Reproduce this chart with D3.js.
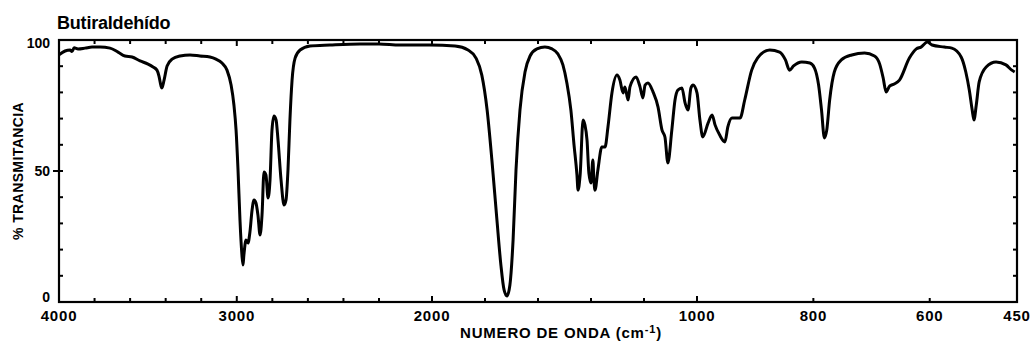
<!DOCTYPE html>
<html>
<head>
<meta charset="utf-8">
<script src="https://cdn.jsdelivr.net/npm/d3@7"></script>
<style>
  body { margin: 0; background: #fff; }
  text { font-family: "Liberation Sans", Arial, sans-serif; font-weight: bold; fill: #000; }
</style>
</head>
<body>
<div id="chart"></div>
<script>
// wavenumber (cm-1) and % transmittance
const wavenumbers = [4000,3966,3938,3927,3915,3893,3854,3814,3769,3713,3668,3629,3589,3544,3499,3471,3449,3438,3426,3421,3409,3392,3364,3319,3263,3207,3151,3117,3083,3055,3032,3016,3004,2993,2982,2971,2965,2960,2948,2937,2926,2914,2903,2892,2881,2869,2858,2847,2836,2824,2813,2802,2791,2779,2768,2751,2734,2723,2712,2701,2689,2672,2644,2588,2476,2307,2200,
  2121,2008,1913,1864,1834,1812,1792,1774,1755,1740,1728,1717,1706,1694,1683,1668,1649,1630,1604,1574,1547,1525,1506,1491,1476,1464,1453,1449,1441,1430,1423,1415,1408,1400,1393,1389,1385,1374,1359,1347,1336,1321,1302,1291,1279,1272,1260,1253,1230,1215,1204,1196,1185,1166,1147,1132,1121,1110,1095,1083,1072,1057,1045,1034,1023,1015,1000,
  995,990,981,974,969,961,952,947,940,926,918,906,896,875,858,848,841,834,820,806,798,791,786,781,777,772,764,752,734,712,695,686,680,675,669,661,652,635,623,615,604,596,575,562,546,538,532,527,524,520,515,503,486,469,459,454];
const transmittance = [94.3,95.8,96.2,95.6,97.0,96.6,96.9,97.3,97.3,96.9,95.4,93.9,93.5,92.0,90.8,89.7,88.5,86.3,82.4,81.7,84.7,90.1,92.7,93.9,94.3,93.9,93.5,92.7,91.2,88.5,82.8,75.2,65.6,50.4,31.3,17.9,14.1,17.9,23.7,22.5,26.7,35.1,38.9,37.8,33.2,25.6,33.2,49.6,48.5,39.7,46.6,65.6,71.0,69.5,61.8,46.6,37.0,38.9,50.4,69.5,84.7,93.1,96.2,97.7,98.1,98.5,98.5,
  98.1,98.1,97.7,96.2,93.1,86.6,73.3,54.2,31.3,14.1,4.6,2.3,6.5,23.7,50.4,73.3,87.8,93.9,96.6,97.3,96.6,94.7,90.5,83.6,73.3,59.9,48.5,42.7,48.5,69.5,67.6,61.8,49.2,45.4,54.2,46.6,42.7,50.4,59.2,59.2,66.8,79.8,86.6,84.7,79.8,82.1,77.1,82.1,85.9,82.1,77.9,82.8,83.6,80.2,74.4,65.6,63.0,53.1,65.6,77.1,80.9,81.7,76.0,73.3,81.7,82.8,79.8,
  69.5,63.0,68.3,71.4,67.6,63.7,61.1,66.8,70.2,70.2,77.1,88.5,93.1,96.2,95.4,92.4,88.5,90.1,91.6,91.2,89.3,82.8,73.3,62.6,65.6,77.1,87.8,92.4,94.3,95.0,93.9,90.8,85.5,80.2,82.4,83.2,84.7,93.1,96.6,97.3,99.2,98.1,97.3,96.9,93.5,87.8,80.9,73.3,69.5,75.2,84.0,89.7,91.6,90.5,88.5,87.8];

const xTickValues = [3800,3600,3400,3200,3000,2800,2600,2400,2200,2000,1800,1600,1400,1200,1000,800,600];
const xTickLabels = [4000,3000,2000,1000,800,600,450];
const yMinorTicks = [10,20,30,40,50,60,70,80,90];
const yTickLabels = [0,50,100];

const width = 1033, height = 345;
const margin = {left: 59, right: 15, top: 40, bottom: 43};

// the chart changes scale at 2200 and 1000 cm-1
const x = d3.scaleLinear()
  .domain([4000, 2200, 1000, 450])
  .range([59, 379, 697, 1017]);
const y = d3.scaleLinear()
  .domain([0, 100])
  .range([height - margin.bottom, margin.top]);

const svg = d3.select('#chart').append('svg')
  .attr('width', width)
  .attr('height', height);

// title
svg.append('text')
  .attr('x', 57).attr('y', 29)
  .attr('font-size', 18)
  .attr('letter-spacing', -0.2)
  .text('Butiraldehído');

// frame
svg.append('rect')
  .attr('x', x(4000)).attr('y', y(100))
  .attr('width', x(450) - x(4000))
  .attr('height', y(0) - y(100))
  .attr('fill', 'none')
  .attr('stroke', '#000')
  .attr('stroke-width', 2.2);

// ticks on every side, pointing in
const tickG = svg.append('g').attr('stroke', '#000').attr('stroke-width', 2);
xTickValues.forEach(v => {
  let len = (v % 1000 === 0) ? 6 : 4;
  tickG.append('line')
    .attr('x1', x(v)).attr('x2', x(v))
    .attr('y1', y(0)).attr('y2', y(0) - len);
  tickG.append('line')
    .attr('x1', x(v)).attr('x2', x(v))
    .attr('y1', y(100)).attr('y2', y(100) + len);
});
yMinorTicks.forEach(v => {
  tickG.append('line')
    .attr('x1', x(4000) - (v === 50 ? 6 : 0)).attr('x2', x(4000) + 4)
    .attr('y1', y(v)).attr('y2', y(v));
  tickG.append('line')
    .attr('x1', x(450)).attr('x2', x(450) - 4)
    .attr('y1', y(v)).attr('y2', y(v));
});

// y labels
svg.selectAll('text.ylab')
  .data(yTickLabels).enter()
  .append('text')
  .attr('class', 'ylab')
  .attr('x', 50)
  .attr('y', d => d === 0 ? y(d) : (d === 100 ? y(d) + 8 : y(d) + 5))
  .attr('text-anchor', 'end')
  .attr('font-size', 14)
  .text(d => d);

svg.append('text')
  .attr('transform', 'translate(23,' + (y(50)) + ') rotate(-90)')
  .attr('text-anchor', 'middle')
  .attr('font-size', 14)
  .attr('letter-spacing', 0.4)
  .text('% TRANSMITANCIA');

// x labels
svg.selectAll('text.xlab')
  .data(xTickLabels).enter()
  .append('text')
  .attr('class', 'xlab')
  .attr('x', d => x(d))
  .attr('y', 321)
  .attr('text-anchor', 'middle')
  .attr('font-size', 15)
  .attr('letter-spacing', 0.8)
  .text(d => d);

let xt = svg.append('text')
  .attr('x', 561).attr('y', 338)
  .attr('text-anchor', 'middle')
  .attr('font-size', 15)
  .attr('letter-spacing', 0.8);
xt.append('tspan').text('NUMERO DE ONDA (cm');
xt.append('tspan').attr('font-size', 11).attr('dy', -5).text('-1');
xt.append('tspan').attr('dy', 5).text(')');

// spectrum
const points = wavenumbers.map((w, i) => [w, transmittance[i]]);
const line = d3.line()
  .x(d => x(d[0]))
  .y(d => y(d[1]))
  .curve(d3.curveMonotoneX);

svg.append('path')
  .datum(points)
  .attr('d', line)
  .attr('fill', 'none')
  .attr('stroke', '#000')
  .attr('stroke-width', 3)
  .attr('stroke-linejoin', 'round');
</script>
</body>
</html>
